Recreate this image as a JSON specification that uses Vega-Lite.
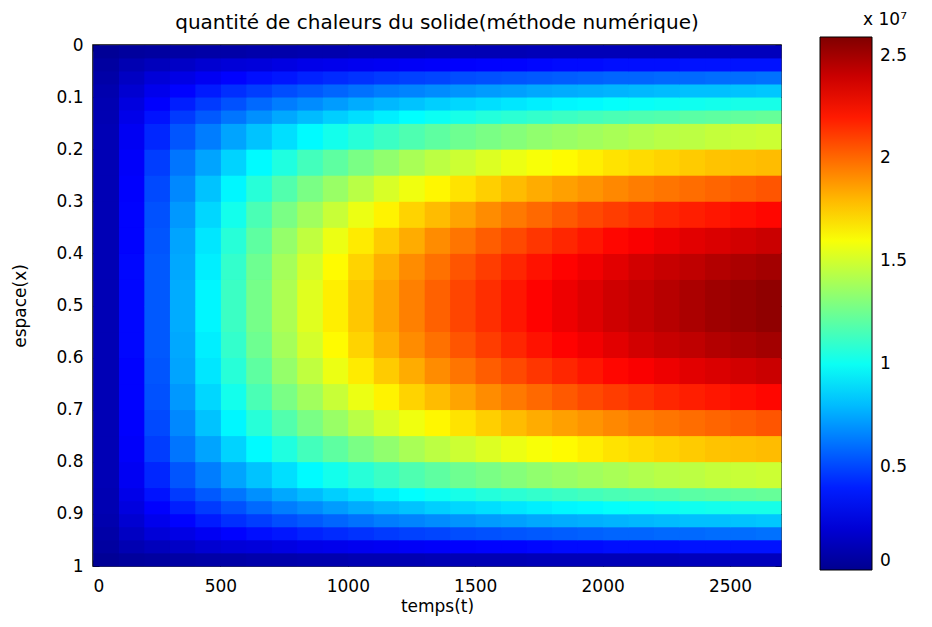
{
"$schema":"https://vega.github.io/schema/vega-lite/v6.json",
"width":688,"height":521,
"autosize":{"type":"none"},
"padding":{"left":93,"top":45,"right":151,"bottom":61},
"background":"white",
"title":{"text":"quantité de chaleurs du solide(méthode numérique)","font":"DejaVu Sans","fontSize":20,"fontWeight":"normal","color":"black","offset":-21},
"config":{
 "view":{"stroke":"black","strokeWidth":1.5},
 "axis":{"labelFont":"DejaVu Sans","labelFontSize":17,"labelColor":"black","titleFont":"DejaVu Sans","titleFontSize":17,"titleFontWeight":"normal","titleColor":"black","domain":false,"grid":false,"tickColor":"black","tickSize":-6,"tickWidth":1,"zindex":1}
},
"resolve":{"axis":{"x":"independent","y":"independent"}},
"datasets":{
"mid":[
{"t":0,"x":0.15,"v":0.11},{"t":0,"x":0.2,"v":0.11},{"t":0,"x":0.25,"v":0.11},{"t":0,"x":0.3,"v":0.11},{"t":0,"x":0.35,"v":0.11},{"t":0,"x":0.4,"v":0.11},{"t":0,"x":0.45,"v":0.11},{"t":0,"x":0.5,"v":0.11},{"t":0,"x":0.55,"v":0.11},{"t":0,"x":0.6,"v":0.11},{"t":0,"x":0.65,"v":0.11},{"t":0,"x":0.7,"v":0.11},{"t":0,"x":0.75,"v":0.11},{"t":0,"x":0.8,"v":0.11},
{"t":100,"x":0.15,"v":0.29},{"t":100,"x":0.2,"v":0.31},{"t":100,"x":0.25,"v":0.32},{"t":100,"x":0.3,"v":0.33},{"t":100,"x":0.35,"v":0.33},{"t":100,"x":0.4,"v":0.34},{"t":100,"x":0.45,"v":0.34},{"t":100,"x":0.5,"v":0.34},{"t":100,"x":0.55,"v":0.34},{"t":100,"x":0.6,"v":0.33},{"t":100,"x":0.65,"v":0.33},{"t":100,"x":0.7,"v":0.32},{"t":100,"x":0.75,"v":0.31},{"t":100,"x":0.8,"v":0.29},
{"t":200,"x":0.15,"v":0.42},{"t":200,"x":0.2,"v":0.48},{"t":200,"x":0.25,"v":0.51},{"t":200,"x":0.3,"v":0.53},{"t":200,"x":0.35,"v":0.54},{"t":200,"x":0.4,"v":0.55},{"t":200,"x":0.45,"v":0.55},{"t":200,"x":0.5,"v":0.55},{"t":200,"x":0.55,"v":0.55},{"t":200,"x":0.6,"v":0.54},{"t":200,"x":0.65,"v":0.53},{"t":200,"x":0.7,"v":0.51},{"t":200,"x":0.75,"v":0.48},{"t":200,"x":0.8,"v":0.42},
{"t":300,"x":0.15,"v":0.54},{"t":300,"x":0.2,"v":0.62},{"t":300,"x":0.25,"v":0.67},{"t":300,"x":0.3,"v":0.71},{"t":300,"x":0.35,"v":0.74},{"t":300,"x":0.4,"v":0.75},{"t":300,"x":0.45,"v":0.76},{"t":300,"x":0.5,"v":0.76},{"t":300,"x":0.55,"v":0.75},{"t":300,"x":0.6,"v":0.74},{"t":300,"x":0.65,"v":0.71},{"t":300,"x":0.7,"v":0.67},{"t":300,"x":0.75,"v":0.62},{"t":300,"x":0.8,"v":0.54},
{"t":400,"x":0.15,"v":0.64},{"t":400,"x":0.2,"v":0.74},{"t":400,"x":0.25,"v":0.82},{"t":400,"x":0.3,"v":0.87},{"t":400,"x":0.35,"v":0.91},{"t":400,"x":0.4,"v":0.93},{"t":400,"x":0.45,"v":0.95},{"t":400,"x":0.5,"v":0.95},{"t":400,"x":0.55,"v":0.93},{"t":400,"x":0.6,"v":0.91},{"t":400,"x":0.65,"v":0.87},{"t":400,"x":0.7,"v":0.82},{"t":400,"x":0.75,"v":0.74},{"t":400,"x":0.8,"v":0.64},
{"t":500,"x":0.15,"v":0.74},{"t":500,"x":0.2,"v":0.86},{"t":500,"x":0.25,"v":0.95},{"t":500,"x":0.3,"v":1.02},{"t":500,"x":0.35,"v":1.07},{"t":500,"x":0.4,"v":1.1},{"t":500,"x":0.45,"v":1.12},{"t":500,"x":0.5,"v":1.12},{"t":500,"x":0.55,"v":1.1},{"t":500,"x":0.6,"v":1.07},{"t":500,"x":0.65,"v":1.02},{"t":500,"x":0.7,"v":0.95},{"t":500,"x":0.75,"v":0.86},{"t":500,"x":0.8,"v":0.74},
{"t":600,"x":0.15,"v":0.82},{"t":600,"x":0.2,"v":0.96},{"t":600,"x":0.25,"v":1.07},{"t":600,"x":0.3,"v":1.16},{"t":600,"x":0.35,"v":1.21},{"t":600,"x":0.4,"v":1.25},{"t":600,"x":0.45,"v":1.27},{"t":600,"x":0.5,"v":1.27},{"t":600,"x":0.55,"v":1.25},{"t":600,"x":0.6,"v":1.21},{"t":600,"x":0.65,"v":1.16},{"t":600,"x":0.7,"v":1.07},{"t":600,"x":0.75,"v":0.96},{"t":600,"x":0.8,"v":0.82},
{"t":700,"x":0.15,"v":0.89},{"t":700,"x":0.2,"v":1.05},{"t":700,"x":0.25,"v":1.18},{"t":700,"x":0.3,"v":1.28},{"t":700,"x":0.35,"v":1.35},{"t":700,"x":0.4,"v":1.39},{"t":700,"x":0.45,"v":1.41},{"t":700,"x":0.5,"v":1.41},{"t":700,"x":0.55,"v":1.39},{"t":700,"x":0.6,"v":1.35},{"t":700,"x":0.65,"v":1.28},{"t":700,"x":0.7,"v":1.18},{"t":700,"x":0.75,"v":1.05},{"t":700,"x":0.8,"v":0.89},
{"t":800,"x":0.15,"v":0.96},{"t":800,"x":0.2,"v":1.14},{"t":800,"x":0.25,"v":1.28},{"t":800,"x":0.3,"v":1.38},{"t":800,"x":0.35,"v":1.46},{"t":800,"x":0.4,"v":1.51},{"t":800,"x":0.45,"v":1.54},{"t":800,"x":0.5,"v":1.54},{"t":800,"x":0.55,"v":1.51},{"t":800,"x":0.6,"v":1.46},{"t":800,"x":0.65,"v":1.38},{"t":800,"x":0.7,"v":1.28},{"t":800,"x":0.75,"v":1.14},{"t":800,"x":0.8,"v":0.96},
{"t":900,"x":0.15,"v":1.02},{"t":900,"x":0.2,"v":1.21},{"t":900,"x":0.25,"v":1.36},{"t":900,"x":0.3,"v":1.48},{"t":900,"x":0.35,"v":1.57},{"t":900,"x":0.4,"v":1.63},{"t":900,"x":0.45,"v":1.66},{"t":900,"x":0.5,"v":1.66},{"t":900,"x":0.55,"v":1.63},{"t":900,"x":0.6,"v":1.57},{"t":900,"x":0.65,"v":1.48},{"t":900,"x":0.7,"v":1.36},{"t":900,"x":0.75,"v":1.21},{"t":900,"x":0.8,"v":1.02},
{"t":1000,"x":0.15,"v":1.07},{"t":1000,"x":0.2,"v":1.28},{"t":1000,"x":0.25,"v":1.44},{"t":1000,"x":0.3,"v":1.57},{"t":1000,"x":0.35,"v":1.67},{"t":1000,"x":0.4,"v":1.73},{"t":1000,"x":0.45,"v":1.76},{"t":1000,"x":0.5,"v":1.76},{"t":1000,"x":0.55,"v":1.73},{"t":1000,"x":0.6,"v":1.67},{"t":1000,"x":0.65,"v":1.57},{"t":1000,"x":0.7,"v":1.44},{"t":1000,"x":0.75,"v":1.28},{"t":1000,"x":0.8,"v":1.07},
{"t":1100,"x":0.15,"v":1.12},{"t":1100,"x":0.2,"v":1.34},{"t":1100,"x":0.25,"v":1.52},{"t":1100,"x":0.3,"v":1.65},{"t":1100,"x":0.35,"v":1.75},{"t":1100,"x":0.4,"v":1.82},{"t":1100,"x":0.45,"v":1.85},{"t":1100,"x":0.5,"v":1.85},{"t":1100,"x":0.55,"v":1.82},{"t":1100,"x":0.6,"v":1.75},{"t":1100,"x":0.65,"v":1.65},{"t":1100,"x":0.7,"v":1.52},{"t":1100,"x":0.75,"v":1.34},{"t":1100,"x":0.8,"v":1.12},
{"t":1200,"x":0.15,"v":1.17},{"t":1200,"x":0.2,"v":1.4},{"t":1200,"x":0.25,"v":1.58},{"t":1200,"x":0.3,"v":1.73},{"t":1200,"x":0.35,"v":1.83},{"t":1200,"x":0.4,"v":1.91},{"t":1200,"x":0.45,"v":1.94},{"t":1200,"x":0.5,"v":1.94},{"t":1200,"x":0.55,"v":1.91},{"t":1200,"x":0.6,"v":1.83},{"t":1200,"x":0.65,"v":1.73},{"t":1200,"x":0.7,"v":1.58},{"t":1200,"x":0.75,"v":1.4},{"t":1200,"x":0.8,"v":1.17},
{"t":1300,"x":0.15,"v":1.21},{"t":1300,"x":0.2,"v":1.45},{"t":1300,"x":0.25,"v":1.64},{"t":1300,"x":0.3,"v":1.79},{"t":1300,"x":0.35,"v":1.91},{"t":1300,"x":0.4,"v":1.98},{"t":1300,"x":0.45,"v":2.02},{"t":1300,"x":0.5,"v":2.02},{"t":1300,"x":0.55,"v":1.98},{"t":1300,"x":0.6,"v":1.91},{"t":1300,"x":0.65,"v":1.79},{"t":1300,"x":0.7,"v":1.64},{"t":1300,"x":0.75,"v":1.45},{"t":1300,"x":0.8,"v":1.21},
{"t":1400,"x":0.15,"v":1.25},{"t":1400,"x":0.2,"v":1.49},{"t":1400,"x":0.25,"v":1.69},{"t":1400,"x":0.3,"v":1.85},{"t":1400,"x":0.35,"v":1.97},{"t":1400,"x":0.4,"v":2.05},{"t":1400,"x":0.45,"v":2.09},{"t":1400,"x":0.5,"v":2.09},{"t":1400,"x":0.55,"v":2.05},{"t":1400,"x":0.6,"v":1.97},{"t":1400,"x":0.65,"v":1.85},{"t":1400,"x":0.7,"v":1.69},{"t":1400,"x":0.75,"v":1.49},{"t":1400,"x":0.8,"v":1.25},
{"t":1500,"x":0.15,"v":1.28},{"t":1500,"x":0.2,"v":1.53},{"t":1500,"x":0.25,"v":1.74},{"t":1500,"x":0.3,"v":1.91},{"t":1500,"x":0.35,"v":2.03},{"t":1500,"x":0.4,"v":2.11},{"t":1500,"x":0.45,"v":2.15},{"t":1500,"x":0.5,"v":2.15},{"t":1500,"x":0.55,"v":2.11},{"t":1500,"x":0.6,"v":2.03},{"t":1500,"x":0.65,"v":1.91},{"t":1500,"x":0.7,"v":1.74},{"t":1500,"x":0.75,"v":1.53},{"t":1500,"x":0.8,"v":1.28},
{"t":1600,"x":0.15,"v":1.31},{"t":1600,"x":0.2,"v":1.57},{"t":1600,"x":0.25,"v":1.79},{"t":1600,"x":0.3,"v":1.96},{"t":1600,"x":0.35,"v":2.08},{"t":1600,"x":0.4,"v":2.17},{"t":1600,"x":0.45,"v":2.21},{"t":1600,"x":0.5,"v":2.21},{"t":1600,"x":0.55,"v":2.17},{"t":1600,"x":0.6,"v":2.08},{"t":1600,"x":0.65,"v":1.96},{"t":1600,"x":0.7,"v":1.79},{"t":1600,"x":0.75,"v":1.57},{"t":1600,"x":0.8,"v":1.31},
{"t":1700,"x":0.15,"v":1.34},{"t":1700,"x":0.2,"v":1.6},{"t":1700,"x":0.25,"v":1.83},{"t":1700,"x":0.3,"v":2.0},{"t":1700,"x":0.35,"v":2.13},{"t":1700,"x":0.4,"v":2.22},{"t":1700,"x":0.45,"v":2.26},{"t":1700,"x":0.5,"v":2.26},{"t":1700,"x":0.55,"v":2.22},{"t":1700,"x":0.6,"v":2.13},{"t":1700,"x":0.65,"v":2.0},{"t":1700,"x":0.7,"v":1.83},{"t":1700,"x":0.75,"v":1.6},{"t":1700,"x":0.8,"v":1.34},
{"t":1800,"x":0.15,"v":1.36},{"t":1800,"x":0.2,"v":1.63},{"t":1800,"x":0.25,"v":1.86},{"t":1800,"x":0.3,"v":2.04},{"t":1800,"x":0.35,"v":2.17},{"t":1800,"x":0.4,"v":2.26},{"t":1800,"x":0.45,"v":2.31},{"t":1800,"x":0.5,"v":2.31},{"t":1800,"x":0.55,"v":2.26},{"t":1800,"x":0.6,"v":2.17},{"t":1800,"x":0.65,"v":2.04},{"t":1800,"x":0.7,"v":1.86},{"t":1800,"x":0.75,"v":1.63},{"t":1800,"x":0.8,"v":1.36},
{"t":1900,"x":0.15,"v":1.38},{"t":1900,"x":0.2,"v":1.66},{"t":1900,"x":0.25,"v":1.89},{"t":1900,"x":0.3,"v":2.08},{"t":1900,"x":0.35,"v":2.21},{"t":1900,"x":0.4,"v":2.3},{"t":1900,"x":0.45,"v":2.35},{"t":1900,"x":0.5,"v":2.35},{"t":1900,"x":0.55,"v":2.3},{"t":1900,"x":0.6,"v":2.21},{"t":1900,"x":0.65,"v":2.08},{"t":1900,"x":0.7,"v":1.89},{"t":1900,"x":0.75,"v":1.66},{"t":1900,"x":0.8,"v":1.38},
{"t":2000,"x":0.15,"v":1.4},{"t":2000,"x":0.2,"v":1.69},{"t":2000,"x":0.25,"v":1.92},{"t":2000,"x":0.3,"v":2.11},{"t":2000,"x":0.35,"v":2.25},{"t":2000,"x":0.4,"v":2.34},{"t":2000,"x":0.45,"v":2.39},{"t":2000,"x":0.5,"v":2.39},{"t":2000,"x":0.55,"v":2.34},{"t":2000,"x":0.6,"v":2.25},{"t":2000,"x":0.65,"v":2.11},{"t":2000,"x":0.7,"v":1.92},{"t":2000,"x":0.75,"v":1.69},{"t":2000,"x":0.8,"v":1.4},
{"t":2100,"x":0.15,"v":1.42},{"t":2100,"x":0.2,"v":1.71},{"t":2100,"x":0.25,"v":1.95},{"t":2100,"x":0.3,"v":2.14},{"t":2100,"x":0.35,"v":2.28},{"t":2100,"x":0.4,"v":2.38},{"t":2100,"x":0.45,"v":2.42},{"t":2100,"x":0.5,"v":2.42},{"t":2100,"x":0.55,"v":2.38},{"t":2100,"x":0.6,"v":2.28},{"t":2100,"x":0.65,"v":2.14},{"t":2100,"x":0.7,"v":1.95},{"t":2100,"x":0.75,"v":1.71},{"t":2100,"x":0.8,"v":1.42},
{"t":2200,"x":0.15,"v":1.44},{"t":2200,"x":0.2,"v":1.73},{"t":2200,"x":0.25,"v":1.97},{"t":2200,"x":0.3,"v":2.17},{"t":2200,"x":0.35,"v":2.31},{"t":2200,"x":0.4,"v":2.41},{"t":2200,"x":0.45,"v":2.45},{"t":2200,"x":0.5,"v":2.45},{"t":2200,"x":0.55,"v":2.41},{"t":2200,"x":0.6,"v":2.31},{"t":2200,"x":0.65,"v":2.17},{"t":2200,"x":0.7,"v":1.97},{"t":2200,"x":0.75,"v":1.73},{"t":2200,"x":0.8,"v":1.44},
{"t":2300,"x":0.15,"v":1.45},{"t":2300,"x":0.2,"v":1.75},{"t":2300,"x":0.25,"v":1.99},{"t":2300,"x":0.3,"v":2.19},{"t":2300,"x":0.35,"v":2.34},{"t":2300,"x":0.4,"v":2.43},{"t":2300,"x":0.45,"v":2.48},{"t":2300,"x":0.5,"v":2.48},{"t":2300,"x":0.55,"v":2.43},{"t":2300,"x":0.6,"v":2.34},{"t":2300,"x":0.65,"v":2.19},{"t":2300,"x":0.7,"v":1.99},{"t":2300,"x":0.75,"v":1.75},{"t":2300,"x":0.8,"v":1.45},
{"t":2400,"x":0.15,"v":1.47},{"t":2400,"x":0.2,"v":1.77},{"t":2400,"x":0.25,"v":2.01},{"t":2400,"x":0.3,"v":2.21},{"t":2400,"x":0.35,"v":2.36},{"t":2400,"x":0.4,"v":2.46},{"t":2400,"x":0.45,"v":2.51},{"t":2400,"x":0.5,"v":2.51},{"t":2400,"x":0.55,"v":2.46},{"t":2400,"x":0.6,"v":2.36},{"t":2400,"x":0.65,"v":2.21},{"t":2400,"x":0.7,"v":2.01},{"t":2400,"x":0.75,"v":1.77},{"t":2400,"x":0.8,"v":1.47},
{"t":2500,"x":0.15,"v":1.48},{"t":2500,"x":0.2,"v":1.78},{"t":2500,"x":0.25,"v":2.03},{"t":2500,"x":0.3,"v":2.23},{"t":2500,"x":0.35,"v":2.38},{"t":2500,"x":0.4,"v":2.48},{"t":2500,"x":0.45,"v":2.53},{"t":2500,"x":0.5,"v":2.53},{"t":2500,"x":0.55,"v":2.48},{"t":2500,"x":0.6,"v":2.38},{"t":2500,"x":0.65,"v":2.23},{"t":2500,"x":0.7,"v":2.03},{"t":2500,"x":0.75,"v":1.78},{"t":2500,"x":0.8,"v":1.48},
{"t":2600,"x":0.15,"v":1.49},{"t":2600,"x":0.2,"v":1.79},{"t":2600,"x":0.25,"v":2.05},{"t":2600,"x":0.3,"v":2.25},{"t":2600,"x":0.35,"v":2.4},{"t":2600,"x":0.4,"v":2.5},{"t":2600,"x":0.45,"v":2.55},{"t":2600,"x":0.5,"v":2.55},{"t":2600,"x":0.55,"v":2.5},{"t":2600,"x":0.6,"v":2.4},{"t":2600,"x":0.65,"v":2.25},{"t":2600,"x":0.7,"v":2.05},{"t":2600,"x":0.75,"v":1.79},{"t":2600,"x":0.8,"v":1.49}
],
"edge":[
{"t":0,"x":0,"v":0.02},{"t":0,"x":0.025,"v":0.05},{"t":0,"x":0.05,"v":0.07},{"t":0,"x":0.075,"v":0.09},{"t":0,"x":0.1,"v":0.1},{"t":0,"x":0.125,"v":0.1},{"t":0,"x":0.85,"v":0.1},{"t":0,"x":0.875,"v":0.1},{"t":0,"x":0.9,"v":0.09},{"t":0,"x":0.925,"v":0.07},{"t":0,"x":0.95,"v":0.05},{"t":0,"x":0.975,"v":0.02},
{"t":100,"x":0,"v":0.04},{"t":100,"x":0.025,"v":0.1},{"t":100,"x":0.05,"v":0.15},{"t":100,"x":0.075,"v":0.19},{"t":100,"x":0.1,"v":0.23},{"t":100,"x":0.125,"v":0.26},{"t":100,"x":0.85,"v":0.26},{"t":100,"x":0.875,"v":0.23},{"t":100,"x":0.9,"v":0.19},{"t":100,"x":0.925,"v":0.15},{"t":100,"x":0.95,"v":0.1},{"t":100,"x":0.975,"v":0.04},
{"t":200,"x":0,"v":0.05},{"t":200,"x":0.025,"v":0.13},{"t":200,"x":0.05,"v":0.21},{"t":200,"x":0.075,"v":0.27},{"t":200,"x":0.1,"v":0.32},{"t":200,"x":0.125,"v":0.37},{"t":200,"x":0.85,"v":0.37},{"t":200,"x":0.875,"v":0.32},{"t":200,"x":0.9,"v":0.27},{"t":200,"x":0.925,"v":0.21},{"t":200,"x":0.95,"v":0.13},{"t":200,"x":0.975,"v":0.05},
{"t":300,"x":0,"v":0.06},{"t":300,"x":0.025,"v":0.16},{"t":300,"x":0.05,"v":0.25},{"t":300,"x":0.075,"v":0.33},{"t":300,"x":0.1,"v":0.4},{"t":300,"x":0.125,"v":0.47},{"t":300,"x":0.85,"v":0.47},{"t":300,"x":0.875,"v":0.4},{"t":300,"x":0.9,"v":0.33},{"t":300,"x":0.925,"v":0.25},{"t":300,"x":0.95,"v":0.16},{"t":300,"x":0.975,"v":0.06},
{"t":400,"x":0,"v":0.07},{"t":400,"x":0.025,"v":0.19},{"t":400,"x":0.05,"v":0.29},{"t":400,"x":0.075,"v":0.39},{"t":400,"x":0.1,"v":0.47},{"t":400,"x":0.125,"v":0.55},{"t":400,"x":0.85,"v":0.55},{"t":400,"x":0.875,"v":0.47},{"t":400,"x":0.9,"v":0.39},{"t":400,"x":0.925,"v":0.29},{"t":400,"x":0.95,"v":0.19},{"t":400,"x":0.975,"v":0.07},
{"t":500,"x":0,"v":0.07},{"t":500,"x":0.025,"v":0.21},{"t":500,"x":0.05,"v":0.33},{"t":500,"x":0.075,"v":0.44},{"t":500,"x":0.1,"v":0.53},{"t":500,"x":0.125,"v":0.62},{"t":500,"x":0.85,"v":0.62},{"t":500,"x":0.875,"v":0.53},{"t":500,"x":0.9,"v":0.44},{"t":500,"x":0.925,"v":0.33},{"t":500,"x":0.95,"v":0.21},{"t":500,"x":0.975,"v":0.07},
{"t":600,"x":0,"v":0.08},{"t":600,"x":0.025,"v":0.22},{"t":600,"x":0.05,"v":0.36},{"t":600,"x":0.075,"v":0.48},{"t":600,"x":0.1,"v":0.59},{"t":600,"x":0.125,"v":0.69},{"t":600,"x":0.85,"v":0.69},{"t":600,"x":0.875,"v":0.59},{"t":600,"x":0.9,"v":0.48},{"t":600,"x":0.925,"v":0.36},{"t":600,"x":0.95,"v":0.22},{"t":600,"x":0.975,"v":0.08},
{"t":700,"x":0,"v":0.08},{"t":700,"x":0.025,"v":0.24},{"t":700,"x":0.05,"v":0.38},{"t":700,"x":0.075,"v":0.52},{"t":700,"x":0.1,"v":0.64},{"t":700,"x":0.125,"v":0.75},{"t":700,"x":0.85,"v":0.75},{"t":700,"x":0.875,"v":0.64},{"t":700,"x":0.9,"v":0.52},{"t":700,"x":0.925,"v":0.38},{"t":700,"x":0.95,"v":0.24},{"t":700,"x":0.975,"v":0.08},
{"t":800,"x":0,"v":0.09},{"t":800,"x":0.025,"v":0.26},{"t":800,"x":0.05,"v":0.41},{"t":800,"x":0.075,"v":0.55},{"t":800,"x":0.1,"v":0.68},{"t":800,"x":0.125,"v":0.8},{"t":800,"x":0.85,"v":0.8},{"t":800,"x":0.875,"v":0.68},{"t":800,"x":0.9,"v":0.55},{"t":800,"x":0.925,"v":0.41},{"t":800,"x":0.95,"v":0.26},{"t":800,"x":0.975,"v":0.09},
{"t":900,"x":0,"v":0.09},{"t":900,"x":0.025,"v":0.27},{"t":900,"x":0.05,"v":0.43},{"t":900,"x":0.075,"v":0.58},{"t":900,"x":0.1,"v":0.72},{"t":900,"x":0.125,"v":0.85},{"t":900,"x":0.85,"v":0.85},{"t":900,"x":0.875,"v":0.72},{"t":900,"x":0.9,"v":0.58},{"t":900,"x":0.925,"v":0.43},{"t":900,"x":0.95,"v":0.27},{"t":900,"x":0.975,"v":0.09},
{"t":1000,"x":0,"v":0.1},{"t":1000,"x":0.025,"v":0.28},{"t":1000,"x":0.05,"v":0.45},{"t":1000,"x":0.075,"v":0.61},{"t":1000,"x":0.1,"v":0.76},{"t":1000,"x":0.125,"v":0.89},{"t":1000,"x":0.85,"v":0.89},{"t":1000,"x":0.875,"v":0.76},{"t":1000,"x":0.9,"v":0.61},{"t":1000,"x":0.925,"v":0.45},{"t":1000,"x":0.95,"v":0.28},{"t":1000,"x":0.975,"v":0.1},
{"t":1100,"x":0,"v":0.1},{"t":1100,"x":0.025,"v":0.29},{"t":1100,"x":0.05,"v":0.47},{"t":1100,"x":0.075,"v":0.64},{"t":1100,"x":0.1,"v":0.79},{"t":1100,"x":0.125,"v":0.93},{"t":1100,"x":0.85,"v":0.93},{"t":1100,"x":0.875,"v":0.79},{"t":1100,"x":0.9,"v":0.64},{"t":1100,"x":0.925,"v":0.47},{"t":1100,"x":0.95,"v":0.29},{"t":1100,"x":0.975,"v":0.1},
{"t":1200,"x":0,"v":0.1},{"t":1200,"x":0.025,"v":0.3},{"t":1200,"x":0.05,"v":0.49},{"t":1200,"x":0.075,"v":0.66},{"t":1200,"x":0.1,"v":0.82},{"t":1200,"x":0.125,"v":0.97},{"t":1200,"x":0.85,"v":0.97},{"t":1200,"x":0.875,"v":0.82},{"t":1200,"x":0.9,"v":0.66},{"t":1200,"x":0.925,"v":0.49},{"t":1200,"x":0.95,"v":0.3},{"t":1200,"x":0.975,"v":0.1},
{"t":1300,"x":0,"v":0.11},{"t":1300,"x":0.025,"v":0.31},{"t":1300,"x":0.05,"v":0.5},{"t":1300,"x":0.075,"v":0.68},{"t":1300,"x":0.1,"v":0.85},{"t":1300,"x":0.125,"v":1.0},{"t":1300,"x":0.85,"v":1.0},{"t":1300,"x":0.875,"v":0.85},{"t":1300,"x":0.9,"v":0.68},{"t":1300,"x":0.925,"v":0.5},{"t":1300,"x":0.95,"v":0.31},{"t":1300,"x":0.975,"v":0.11},
{"t":1400,"x":0,"v":0.11},{"t":1400,"x":0.025,"v":0.32},{"t":1400,"x":0.05,"v":0.52},{"t":1400,"x":0.075,"v":0.7},{"t":1400,"x":0.1,"v":0.87},{"t":1400,"x":0.125,"v":1.03},{"t":1400,"x":0.85,"v":1.03},{"t":1400,"x":0.875,"v":0.87},{"t":1400,"x":0.9,"v":0.7},{"t":1400,"x":0.925,"v":0.52},{"t":1400,"x":0.95,"v":0.32},{"t":1400,"x":0.975,"v":0.11},
{"t":1500,"x":0,"v":0.11},{"t":1500,"x":0.025,"v":0.33},{"t":1500,"x":0.05,"v":0.53},{"t":1500,"x":0.075,"v":0.72},{"t":1500,"x":0.1,"v":0.89},{"t":1500,"x":0.125,"v":1.06},{"t":1500,"x":0.85,"v":1.06},{"t":1500,"x":0.875,"v":0.89},{"t":1500,"x":0.9,"v":0.72},{"t":1500,"x":0.925,"v":0.53},{"t":1500,"x":0.95,"v":0.33},{"t":1500,"x":0.975,"v":0.11},
{"t":1600,"x":0,"v":0.11},{"t":1600,"x":0.025,"v":0.33},{"t":1600,"x":0.05,"v":0.54},{"t":1600,"x":0.075,"v":0.73},{"t":1600,"x":0.1,"v":0.91},{"t":1600,"x":0.125,"v":1.08},{"t":1600,"x":0.85,"v":1.08},{"t":1600,"x":0.875,"v":0.91},{"t":1600,"x":0.9,"v":0.73},{"t":1600,"x":0.925,"v":0.54},{"t":1600,"x":0.95,"v":0.33},{"t":1600,"x":0.975,"v":0.11},
{"t":1700,"x":0,"v":0.12},{"t":1700,"x":0.025,"v":0.34},{"t":1700,"x":0.05,"v":0.55},{"t":1700,"x":0.075,"v":0.75},{"t":1700,"x":0.1,"v":0.93},{"t":1700,"x":0.125,"v":1.1},{"t":1700,"x":0.85,"v":1.1},{"t":1700,"x":0.875,"v":0.93},{"t":1700,"x":0.9,"v":0.75},{"t":1700,"x":0.925,"v":0.55},{"t":1700,"x":0.95,"v":0.34},{"t":1700,"x":0.975,"v":0.12},
{"t":1800,"x":0,"v":0.12},{"t":1800,"x":0.025,"v":0.35},{"t":1800,"x":0.05,"v":0.56},{"t":1800,"x":0.075,"v":0.76},{"t":1800,"x":0.1,"v":0.95},{"t":1800,"x":0.125,"v":1.12},{"t":1800,"x":0.85,"v":1.12},{"t":1800,"x":0.875,"v":0.95},{"t":1800,"x":0.9,"v":0.76},{"t":1800,"x":0.925,"v":0.56},{"t":1800,"x":0.95,"v":0.35},{"t":1800,"x":0.975,"v":0.12},
{"t":1900,"x":0,"v":0.12},{"t":1900,"x":0.025,"v":0.35},{"t":1900,"x":0.05,"v":0.57},{"t":1900,"x":0.075,"v":0.77},{"t":1900,"x":0.1,"v":0.96},{"t":1900,"x":0.125,"v":1.14},{"t":1900,"x":0.85,"v":1.14},{"t":1900,"x":0.875,"v":0.96},{"t":1900,"x":0.9,"v":0.77},{"t":1900,"x":0.925,"v":0.57},{"t":1900,"x":0.95,"v":0.35},{"t":1900,"x":0.975,"v":0.12},
{"t":2000,"x":0,"v":0.12},{"t":2000,"x":0.025,"v":0.36},{"t":2000,"x":0.05,"v":0.58},{"t":2000,"x":0.075,"v":0.78},{"t":2000,"x":0.1,"v":0.98},{"t":2000,"x":0.125,"v":1.16},{"t":2000,"x":0.85,"v":1.16},{"t":2000,"x":0.875,"v":0.98},{"t":2000,"x":0.9,"v":0.78},{"t":2000,"x":0.925,"v":0.58},{"t":2000,"x":0.95,"v":0.36},{"t":2000,"x":0.975,"v":0.12},
{"t":2100,"x":0,"v":0.12},{"t":2100,"x":0.025,"v":0.36},{"t":2100,"x":0.05,"v":0.58},{"t":2100,"x":0.075,"v":0.79},{"t":2100,"x":0.1,"v":0.99},{"t":2100,"x":0.125,"v":1.17},{"t":2100,"x":0.85,"v":1.17},{"t":2100,"x":0.875,"v":0.99},{"t":2100,"x":0.9,"v":0.79},{"t":2100,"x":0.925,"v":0.58},{"t":2100,"x":0.95,"v":0.36},{"t":2100,"x":0.975,"v":0.12},
{"t":2200,"x":0,"v":0.12},{"t":2200,"x":0.025,"v":0.36},{"t":2200,"x":0.05,"v":0.59},{"t":2200,"x":0.075,"v":0.8},{"t":2200,"x":0.1,"v":1.0},{"t":2200,"x":0.125,"v":1.18},{"t":2200,"x":0.85,"v":1.18},{"t":2200,"x":0.875,"v":1.0},{"t":2200,"x":0.9,"v":0.8},{"t":2200,"x":0.925,"v":0.59},{"t":2200,"x":0.95,"v":0.36},{"t":2200,"x":0.975,"v":0.12},
{"t":2300,"x":0,"v":0.13},{"t":2300,"x":0.025,"v":0.37},{"t":2300,"x":0.05,"v":0.59},{"t":2300,"x":0.075,"v":0.81},{"t":2300,"x":0.1,"v":1.01},{"t":2300,"x":0.125,"v":1.2},{"t":2300,"x":0.85,"v":1.2},{"t":2300,"x":0.875,"v":1.01},{"t":2300,"x":0.9,"v":0.81},{"t":2300,"x":0.925,"v":0.59},{"t":2300,"x":0.95,"v":0.37},{"t":2300,"x":0.975,"v":0.13},
{"t":2400,"x":0,"v":0.13},{"t":2400,"x":0.025,"v":0.37},{"t":2400,"x":0.05,"v":0.6},{"t":2400,"x":0.075,"v":0.81},{"t":2400,"x":0.1,"v":1.02},{"t":2400,"x":0.125,"v":1.21},{"t":2400,"x":0.85,"v":1.21},{"t":2400,"x":0.875,"v":1.02},{"t":2400,"x":0.9,"v":0.81},{"t":2400,"x":0.925,"v":0.6},{"t":2400,"x":0.95,"v":0.37},{"t":2400,"x":0.975,"v":0.13},
{"t":2500,"x":0,"v":0.13},{"t":2500,"x":0.025,"v":0.37},{"t":2500,"x":0.05,"v":0.6},{"t":2500,"x":0.075,"v":0.82},{"t":2500,"x":0.1,"v":1.03},{"t":2500,"x":0.125,"v":1.22},{"t":2500,"x":0.85,"v":1.22},{"t":2500,"x":0.875,"v":1.03},{"t":2500,"x":0.9,"v":0.82},{"t":2500,"x":0.925,"v":0.6},{"t":2500,"x":0.95,"v":0.37},{"t":2500,"x":0.975,"v":0.13},
{"t":2600,"x":0,"v":0.13},{"t":2600,"x":0.025,"v":0.37},{"t":2600,"x":0.05,"v":0.61},{"t":2600,"x":0.075,"v":0.83},{"t":2600,"x":0.1,"v":1.03},{"t":2600,"x":0.125,"v":1.23},{"t":2600,"x":0.85,"v":1.23},{"t":2600,"x":0.875,"v":1.03},{"t":2600,"x":0.9,"v":0.83},{"t":2600,"x":0.925,"v":0.61},{"t":2600,"x":0.95,"v":0.37},{"t":2600,"x":0.975,"v":0.13}
]},
"encoding":{
 "color":{"field":"v","type":"quantitative","scale":{"domain":[0,0.324,0.971,1.619,2.266,2.59],"range":["#00008F","#0000FF","#00FFFF","#FFFF00","#FF0000","#800000"],"interpolate":"rgb"},
  "legend":{"type":"gradient","orient":"none","legendX":727,"legendY":-33,"direction":"vertical","gradientLength":533,"gradientThickness":52,"gradientStrokeColor":"black","gradientStrokeWidth":1,"title":"x 10⁷","titleOrient":"top","titleAnchor":"end","titleFont":"DejaVu Sans","titleFontSize":17,"titleFontWeight":"normal","titleColor":"black","titlePadding":8,"labelFont":"DejaVu Sans","labelFontSize":17,"labelColor":"black","labelOffset":8,"values":[0,0.5,1,1.5,2,2.5],"format":"~g","labelOverlap":false}}
},
"layer":[
 {"data":{"name":"mid"},"mark":{"type":"rect","binSpacing":0,"clip":true},
  "encoding":{
   "x":{"field":"t","type":"quantitative","bin":{"binned":true,"step":104},"scale":{"domain":[0,2700],"nice":false,"zero":false},"axis":null},
   "y":{"field":"x","type":"quantitative","bin":{"binned":true,"step":0.052},"scale":{"domain":[0,1],"reverse":true,"nice":false,"zero":false},"axis":null}}},
 {"data":{"name":"edge"},"mark":{"type":"rect","binSpacing":0,"clip":true},
  "encoding":{
   "x":{"field":"t","type":"quantitative","bin":{"binned":true,"step":104},"scale":{"domain":[0,2700],"nice":false,"zero":false},"axis":null},
   "y":{"field":"x","type":"quantitative","bin":{"binned":true,"step":0.027},"scale":{"domain":[0,1],"reverse":true,"nice":false,"zero":false},"axis":null}}},
 {"data":{"name":"mid"},"mark":{"type":"rect","binSpacing":0},
  "encoding":{
   "x":{"field":"t","type":"quantitative","bin":{"binned":true,"step":100},"scale":{"domain":[0,2700],"nice":false,"zero":false},"axis":{"title":"temps(t)","values":[0,500,1000,1500,2000,2500],"format":"d","labelPadding":18,"titlePadding":4}},
   "y":{"field":"x","type":"quantitative","bin":{"binned":true,"step":0.05},"scale":{"domain":[0,1],"reverse":true,"nice":false,"zero":false},"axis":{"title":"espace(x)","values":[0,0.1,0.2,0.3,0.4,0.5,0.6,0.7,0.8,0.9,1],"format":"~g","labelPadding":16,"titlePadding":26}}}},
 {"data":{"name":"edge"},"mark":{"type":"rect","binSpacing":0},
  "encoding":{
   "x":{"field":"t","type":"quantitative","bin":{"binned":true,"step":100},"scale":{"domain":[0,2700],"nice":false,"zero":false},"axis":{"orient":"top","title":null,"labels":false,"values":[0,500,1000,1500,2000,2500]}},
   "y":{"field":"x","type":"quantitative","bin":{"binned":true,"step":0.025},"scale":{"domain":[0,1],"reverse":true,"nice":false,"zero":false},"axis":{"orient":"right","title":null,"labels":false,"values":[0,0.1,0.2,0.3,0.4,0.5,0.6,0.7,0.8,0.9,1]}}}}
]
}
